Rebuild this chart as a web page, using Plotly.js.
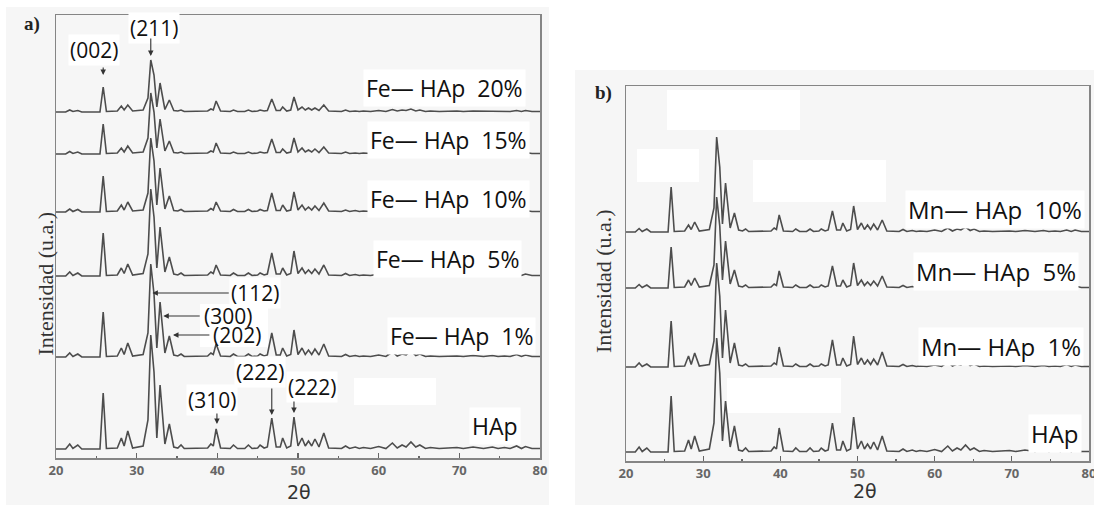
<!DOCTYPE html>
<html>
<head>
<meta charset="utf-8">
<script src="https://cdn.plot.ly/plotly-3.0.1.min.js"></script>
<style>html,body{margin:0;padding:0;background:#fff;}#chart{width:1094px;height:505px;}</style>
</head>
<body>
<div id="chart"></div>
<script>
// ---------- DATA ----------
// 2θ positions (degrees) shared by every pattern
const twoTheta = [
  20.0, 21.2, 21.7, 22.1, 22.7, 23.2, 25.45, 25.85, 26.25, 27.6,
  28.1, 28.45, 28.9, 29.5, 30.8, 31.4, 31.75, 32.15, 32.5, 32.9,
  33.5, 34.05, 34.6, 35.1, 35.5, 35.9, 38.8, 39.2, 39.5, 39.85,
  40.4, 41.6, 42.0, 42.5, 43.4, 43.85, 44.3, 45.0, 45.3, 45.8,
  46.2, 46.75, 47.3, 47.8, 48.1, 48.6, 49.1, 49.5, 50.0, 50.5,
  50.9, 51.3, 51.7, 52.1, 52.6, 53.2, 53.8, 55.4, 55.9, 56.4,
  57.1, 57.6, 58.1, 59.0, 60.0, 60.9, 61.7, 62.3, 62.9, 63.4,
  64.0, 64.6, 65.1, 65.8, 66.4, 67.5, 69.7, 70.5, 71.7, 72.3,
  73.0, 74.1, 74.8, 75.6, 76.3, 77.1, 77.7, 78.2, 79.0, 80.0
];

// Panel a) intensities (u.a.)
const hapA = [
  1,1,6,1.5,5,1,1,57,1.5,2,
  12,4,19,2,4,30,115,78,12,65,
  6,26,3,2,5,1.5,2,6,4,21,
  2,1.5,5,1.5,1.5,5,1.5,2,5,2,
  3,32,3,3,12,2,4,33,4,12,
  4,9,4,11,3,17,2,1.5,4,1.5,
  3,1.5,2.5,1.5,3.5,1.5,7,2,5,3,
  8,3,5,1.5,2.5,1.5,2.5,1.5,3,2.5,
  1.5,3,1.5,2.5,1.5,4,1.5,3.5,1.5,1.5
];
const fe1 = [
  1,1,5,1.5,4,1,1,46,1.5,2,
  10,3.5,15,2,3.5,25,94,64,10,56,
  5,22,3,2,4,1.5,2,5,3.5,14,
  2,1.5,4,1.5,1.5,4,1.5,2,4,2,
  3,25,3,3,10,2,3.5,28,3.5,10,
  3.5,8,3.5,9,3,14,2,1.5,3.5,1.5,
  2.5,1.5,2,1.5,3,1.5,6,2,4,3,
  7,2.5,4,1.5,2,1.5,2,1.5,2.5,2,
  1.5,2.5,1.5,2,1.5,3.5,1.5,3,1.5,1.5
];
const fe5 = [
  1,1,5,1.5,4,1,1,44,1.5,2,
  9,3.5,13,2,3.5,23,88,60,9,50,
  5,20,3,2,4,1.5,2,5,3.5,12,
  2,1.5,4,1.5,1.5,4,1.5,2,4,2,
  3,24,3,3,9,2,3.5,26,3.5,9,
  3.5,7,3.5,8,3,12,2,1.5,3.5,1.5,
  2.5,1.5,2,1.5,3,1.5,5,2,4,3,
  6,2.5,4,1.5,2,1.5,2,1.5,2.5,2,
  1.5,2.5,1.5,2,1.5,3,1.5,3,1.5,1.5
];
const fe10 = [
  1,1,4,1.5,3.5,1,1,37,1.5,2,
  8,3,11,2,3,20,75,52,8,45,
  4,17,2.5,2,3.5,1.5,2,4.5,3,11,
  2,1.5,3.5,1.5,1.5,3.5,1.5,2,3.5,2,
  2.5,20,2.5,2.5,8,2,3,21,3,8,
  3,6,3,7,2.5,10,2,1.5,3,1.5,
  2.5,1.5,2,1.5,2.5,1.5,4.5,2,3.5,2.5,
  5,2.5,3.5,1.5,2,1.5,2,1.5,2,2,
  1.5,2,1.5,2,1.5,2.5,1.5,2.5,1.5,1.5
];
const fe15 = [
  1,1,3.5,1.5,3,1,1,31,1.5,2,
  7,3,9,2,3,17,62,43,7,36,
  4,14,2.5,2,3,1.5,2,4,3,12,
  2,1.5,3,1.5,1.5,3,1.5,2,3,2,
  2.5,16,2.5,2.5,6,2,3,17,3,7,
  3,5,3,6,2.5,8,2,1.5,3,1.5,
  2,1.5,2,1.5,2.5,1.5,4,2,3,2.5,
  4.5,2,3,1.5,2,1.5,2,1.5,2,2,
  1.5,2,1.5,2,1.5,2.5,1.5,2.5,1.5,1.5
];
const fe20 = [
  1,1,3,1.5,2.5,1,1,26,1.5,2,
  7,3,8,2,3,15,53,38,6,30,
  3.5,13,2.5,2,3,1.5,2,4,3,12,
  2,1.5,3,1.5,1.5,3,1.5,2,3,2,
  2.5,14,2.5,2.5,6,2,3,16,3,6,
  3,5,3,5,2.5,8,2,1.5,3,1.5,
  2,1.5,2,1.5,2.5,1.5,3.5,2,3,2.5,
  4,2,3,1.5,2,1.5,2,1.5,2,2,
  1.5,2,1.5,2,1.5,2.5,1.5,2.5,1.5,1.5
];

// Panel b) intensities (u.a.)
const hapB = [
  1,1,6,1.5,5,1,1,57,1.5,2,
  13,4,17,2,4,30,115,80,12,52,
  6,27,3,2,5,1.5,2,6,4,25,
  2,1.5,5,1.5,1.5,5,1.5,2,5,2,
  3,30,3,3,12,2,4,36,4,12,
  4,9,4,11,3,17,2,1.5,4,1.5,
  3,1.5,2.5,1.5,3.5,1.5,7,2,5,3,
  8,3,5,1.5,2.5,1.5,2.5,1.5,3,2.5,
  1.5,3,1.5,2.5,1.5,4,1.5,3.5,1.5,1.5
];
const mn1 = [
  1,1,5,1.5,4,1,1,47,1.5,2,
  12,3.5,15,2,3.5,27,105,72,10,58,
  5,25,3,2,4,1.5,2,5,3.5,21,
  2,1.5,4,1.5,1.5,4,1.5,2,4,2,
  3,28,3,3,10,2,3.5,32,3.5,10,
  3.5,8,3.5,9,3,16,2,1.5,3.5,1.5,
  2.5,1.5,2,1.5,3,1.5,6,2,4,3,
  7,2.5,4,1.5,2,1.5,2,1.5,2.5,2,
  1.5,2.5,1.5,2,1.5,3.5,1.5,3,1.5,1.5
];
const mn5 = [
  1,1,4.5,1.5,4,1,1,42,1.5,2,
  9,3.5,11,2,3.5,24,92,63,9,48,
  5,19,3,2,4,1.5,2,5,3.5,18,
  2,1.5,4,1.5,1.5,4,1.5,2,4,2,
  3,23,3,3,9,2,3.5,26,3.5,9,
  3.5,7,3.5,8,3,13,2,1.5,3.5,1.5,
  2.5,1.5,2,1.5,3,1.5,5,2,4,3,
  6,2.5,4,1.5,2,1.5,2,1.5,2.5,2,
  1.5,2.5,1.5,2,1.5,3,1.5,3,1.5,1.5
];
const mn10 = [
  1,1,4.5,1.5,4,1,1,46,1.5,2,
  8,3.5,11,2,3.5,25,96,66,9,50,
  5,20,3,2,4,1.5,2,5,3.5,18,
  2,1.5,4,1.5,1.5,4,1.5,2,4,2,
  3,22,3,3,10,2,3.5,27,3.5,10,
  3.5,8,3.5,9,3,13,2,1.5,3.5,1.5,
  2.5,1.5,2,1.5,3,1.5,5,2,4,3,
  6,2.5,4,1.5,2,1.5,2,1.5,2.5,2,
  1.5,2.5,1.5,2,1.5,3,1.5,3,1.5,1.5
];

// Series names and vertical offsets of the stacked patterns
const seriesA = [hapA, fe1, fe5, fe10, fe15, fe20];
const namesA  = ['HAp', 'Fe— HAp  1%', 'Fe— HAp  5%', 'Fe— HAp  10%', 'Fe— HAp  15%', 'Fe— HAp  20%'];
const offsetsA = [8, 100, 181, 245, 303, 345];
const seriesB = [hapB, mn1, mn5, mn10];
const namesB  = ['HAp', 'Mn— HAp  1%', 'Mn— HAp  5%', 'Mn— HAp  10%'];
const offsetsB = [8, 93, 172, 228];

const tickVals = [20, 30, 40, 50, 60, 70, 80];
const tickText = ['20', '30', '40', '50', '60', '70', '80'];
const minorVals = [25, 35, 45, 55, 65, 75];

// Miller index labels for panel a)
const millerText = ['(002)', '(211)', '(112)', '(300)', '(202)', '(310)', '(222)', '(222)'];

// ---------- LAYOUT HELPERS ----------
const W = 1094, H = 505;
const px = p => p / W;
const py = p => 1 - p / H;

const lineStyle = {color: '#4d4d4d', width: 1.6};
const traces = [];
seriesA.forEach((s, i) => traces.push({
  x: twoTheta, y: s.map(v => v + offsetsA[i]), type: 'scatter', mode: 'lines',
  name: namesA[i], line: lineStyle, xaxis: 'x', yaxis: 'y', hoverinfo: 'skip'
}));
seriesB.forEach((s, i) => traces.push({
  x: twoTheta, y: s.map(v => v + offsetsB[i]), type: 'scatter', mode: 'lines',
  name: namesB[i], line: lineStyle, xaxis: 'x2', yaxis: 'y2', hoverinfo: 'skip'
}));

function xAxis(domain, anchor) {
  return {
    domain: domain, anchor: anchor, range: [20, 80], showgrid: false, zeroline: false,
    showline: true, mirror: true, linecolor: '#858585', linewidth: 1.5,
    tickmode: 'array', tickvals: tickVals, ticktext: tickText,
    ticks: 'inside', ticklen: 5, tickwidth: 1.2, tickcolor: '#666',
    ticklabeloverflow: 'allow',
    tickfont: {family: 'Open Sans', size: 13, color: '#666', weight: 'bold'},
    minor: {tickmode: 'array', tickvals: minorVals, ticks: 'inside', ticklen: 2, tickwidth: 1.5, tickcolor: '#666', showgrid: false},
    fixedrange: true
  };
}
function yAxis(domain, anchor, top) {
  return {
    domain: domain, anchor: anchor, range: [0, top], showgrid: false, zeroline: false,
    showline: true, mirror: true, linecolor: '#858585', linewidth: 1.5,
    showticklabels: false, ticks: '', fixedrange: true
  };
}

const labelFont = {family: 'Open Sans', size: 23, color: '#111'};
const annotations = [];
function textAt(text, x, y, font, xanchor, bg, pad) {
  annotations.push({text: text, x: px(x), y: py(y), xref: 'paper', yref: 'paper',
    xanchor: xanchor || 'center', yanchor: 'middle', showarrow: false, font: font,
    bgcolor: bg || 'rgba(0,0,0,0)', borderpad: pad === undefined ? 2 : pad});
}
function arrow(xr, yr, x0, y0, x1, y1) {
  annotations.push({text: '', xref: xr, yref: yr, axref: xr, ayref: yr,
    x: x1, y: y1, ax: x0, ay: y0, showarrow: true, arrowhead: 2, arrowsize: 1,
    arrowwidth: 1.1, arrowcolor: '#333', standoff: 0, startstandoff: 0});
}

// Series labels panel a)
const rightA = [521, 536, 522, 530, 530, 526];
const yA = [426, 336, 259, 199, 140, 88];
namesA.forEach((n, i) => textAt(n, rightA[i], yA[i], labelFont, 'right', '#ffffff'));
// Series labels panel b)
const rightB = [1082, 1084, 1079, 1085];
const yB = [433, 346, 271, 210];
const labelFontB = {family: 'Open Sans', size: 24, color: '#111'};
namesB.forEach((n, i) => textAt(n, rightB[i], yB[i], labelFontB, 'right', '#ffffff'));

// Miller index labels (pixel centres)
const millerPos = [[94, 50], [154, 28], [255, 293], [228, 316], [237, 335], [212, 400], [260, 372], [312, 387]];
const millerBg = ['#fff', '#fff', '#fff', '', '', '#fff', '#fff', '#fff'];
const millerFont = {family: 'Open Sans', size: 21, color: '#111'};
millerText.forEach((t, i) => textAt(t, millerPos[i][0], millerPos[i][1], millerFont, 'center', millerBg[i] || 'rgba(0,0,0,0)', 1));

// arrows (data coordinates of panel a)
arrow('x', 'y', 25.85, 392, 25.85, 383);
arrow('x', 'y', 31.75, 421, 31.75, 402);
arrow('x', 'y', 41.6, 165, 31.95, 165);
arrow('x', 'y', 38.0, 142, 33.3, 142);
arrow('x', 'y', 39.2, 123, 34.5, 123);
arrow('x', 'y', 39.95, 46, 39.95, 34);
arrow('x', 'y', 46.75, 71, 46.75, 43);
arrow('x', 'y', 49.5, 58, 49.5, 45);

// axis titles & panel letters
const serif = {family: 'Liberation Serif', size: 22, color: '#333'};
annotations.push({text: 'Intensidad (u.a.)', x: px(30), y: py(284), xref: 'paper', yref: 'paper', textangle: -90, showarrow: false, font: serif});
annotations.push({text: 'Intensidad (u.a.)', x: px(603), y: py(281), xref: 'paper', yref: 'paper', textangle: -90, showarrow: false, font: serif});
const thetaFont = {family: 'DejaVu Sans', size: 19, color: '#333'};
textAt('2θ', 299, 492, thetaFont, 'center', '', 0);
textAt('2θ', 865, 491, thetaFont, 'center', '', 0);
const letterFont = {family: 'Liberation Serif', size: 19, color: '#222', weight: 'bold'};
textAt('<b>a)</b>', 32, 24, letterFont);
textAt('<b>b)</b>', 603, 93, letterFont);

const shapes = [
  {type: 'rect', xref: 'paper', yref: 'paper', x0: px(6), x1: px(549), y0: py(505), y1: py(7), fillcolor: '#f6f6f6', line: {width: 0}, layer: 'below'},
  {type: 'rect', xref: 'paper', yref: 'paper', x0: px(575), x1: px(1094), y0: py(505), y1: py(70), fillcolor: '#f6f6f6', line: {width: 0}, layer: 'below'},
  {type: 'rect', xref: 'paper', yref: 'paper', x0: px(667), x1: px(800), y0: py(130), y1: py(90), fillcolor: '#fff', line: {width: 0}, layer: 'below'},
  {type: 'rect', xref: 'paper', yref: 'paper', x0: px(637), x1: px(699), y0: py(182), y1: py(149), fillcolor: '#fff', line: {width: 0}, layer: 'below'},
  {type: 'rect', xref: 'paper', yref: 'paper', x0: px(753), x1: px(886), y0: py(202), y1: py(160), fillcolor: '#fff', line: {width: 0}, layer: 'below'},
  {type: 'rect', xref: 'paper', yref: 'paper', x0: px(727), x1: px(841), y0: py(413), y1: py(378), fillcolor: '#fff', line: {width: 0}, layer: 'below'},
  {type: 'rect', xref: 'paper', yref: 'paper', x0: px(354), x1: px(436), y0: py(405), y1: py(378), fillcolor: '#fff', line: {width: 0}, layer: 'below'},
  {type: 'rect', xref: 'paper', yref: 'paper', x0: px(200), x1: px(268), y0: py(347), y1: py(304), fillcolor: '#fff', line: {width: 0}, layer: 'below'}
];

const layout = {
  width: W, height: H, margin: {l: 0, r: 0, t: 0, b: 0},
  paper_bgcolor: '#ffffff', plot_bgcolor: 'rgba(0,0,0,0)', showlegend: false,
  xaxis: xAxis([px(56), px(540)], 'y'),
  yaxis: yAxis([py(458), py(15)], 'x', 443),
  xaxis2: xAxis([px(626), px(1089)], 'y2'),
  yaxis2: yAxis([py(461), py(86)], 'x2', 375),
  annotations: annotations, shapes: shapes
};

Plotly.newPlot('chart', traces, layout, {staticPlot: true, displayModeBar: false});
</script>
</body>
</html>
